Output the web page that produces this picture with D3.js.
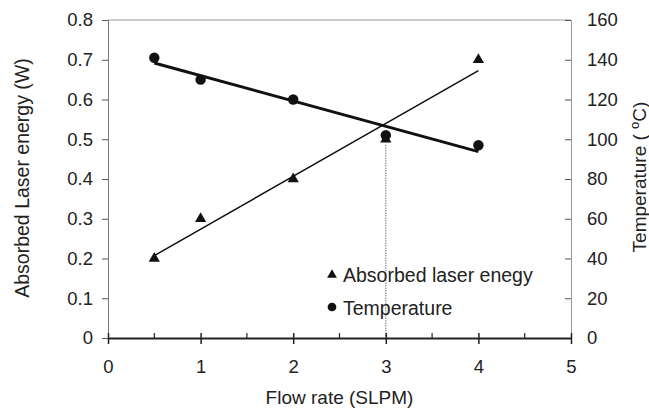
<!DOCTYPE html>
<html>
<head>
<meta charset="utf-8">
<script src="https://cdn.jsdelivr.net/npm/d3@7"></script>
<style>
  body { margin: 0; background: #fff; }
  svg { display: block; font-family: "Liberation Sans", Arial, sans-serif; }
</style>
</head>
<body>
<svg width="649" height="409"></svg>
<script>
// data
const flowRate = [0.5, 1, 2, 3, 4];
const absorbedEnergy = [0.2, 0.3, 0.4, 0.5, 0.7];
const temperature = [141, 130, 120, 102, 97];
const xTicks = [0, 1, 2, 3, 4, 5];
const xMinorTicks = [0.5, 1.5, 2.5, 3.5, 4.5];
const leftTicks = [0, 0.1, 0.2, 0.3, 0.4, 0.5, 0.6, 0.7, 0.8];
const rightTicks = [0, 20, 40, 60, 80, 100, 120, 140, 160];
const markerLine = 3;

const margin = { top: 20, right: 78, bottom: 71, left: 108 },
  width = 649 - margin.left - margin.right,
  height = 409 - margin.top - margin.bottom;

const svg = d3.select('svg');
const g = svg.append('g')
  .attr('transform', `translate(${margin.left},${margin.top})`);

const x = d3.scaleLinear().domain([0, 5]).range([0, width]);
const yL = d3.scaleLinear().domain([0, 0.8]).range([height, 0]);
const yR = d3.scaleLinear().domain([0, 160]).range([height, 0]);

// least squares trend line
function fit(xs, ys) {
  const mx = d3.mean(xs), my = d3.mean(ys);
  let sxy = 0, sxx = 0;
  xs.forEach((v, i) => { sxy += (v - mx) * (ys[i] - my); sxx += (v - mx) * (v - mx); });
  const b = sxy / sxx, a = my - b * mx;
  return v => a + b * v;
}

// top border in gray
g.append('line').attr('x1', 0).attr('x2', width).attr('y1', 0).attr('y2', 0)
  .attr('stroke', '#999').attr('stroke-width', 1);

const leftAxis = g.append('g')
  .call(d3.axisLeft(yL).tickValues(leftTicks).tickSize(6).tickPadding(9)
    .tickFormat(d => d === 0 ? '0' : d3.format('.1f')(d)));
leftAxis.select('.domain').attr('stroke', '#777');
leftAxis.selectAll('.tick line').attr('stroke', '#555');
leftAxis.selectAll('text').attr('font-size', 18.5).attr('fill', '#222');

const rightAxis = g.append('g')
  .attr('transform', `translate(${width},0)`)
  .call(d3.axisRight(yR).tickValues(rightTicks).tickSize(0).tickPadding(16));
rightAxis.select('.domain').attr('stroke', '#999');
rightAxis.selectAll('.tick').append('line')
  .attr('x1', -6).attr('x2', 0).attr('stroke', '#555');
rightAxis.selectAll('text').attr('font-size', 18.5).attr('fill', '#222');

const xAxis = g.append('g')
  .attr('transform', `translate(0,${height})`)
  .call(d3.axisBottom(x).tickValues(xTicks).tickSize(0).tickPadding(22)
    .tickFormat(d3.format('d')));
xAxis.select('.domain').attr('stroke', '#222').attr('stroke-width', 2);
xAxis.selectAll('.tick').append('line')
  .attr('y1', -5).attr('y2', 6).attr('stroke', '#222').attr('stroke-width', 1.5);
xAxis.selectAll('text').attr('font-size', 18.5).attr('fill', '#222');
xAxis.selectAll('.minor')
  .data(xMinorTicks).enter().append('line')
  .attr('x1', d => x(d)).attr('x2', d => x(d))
  .attr('y1', -5).attr('y2', 0)
  .attr('stroke', '#222').attr('stroke-width', 1.2);

// dotted drop line
g.append('line')
  .attr('x1', x(markerLine)).attr('x2', x(markerLine))
  .attr('y1', yL(absorbedEnergy[3]) + 6).attr('y2', height)
  .attr('stroke', '#333').attr('stroke-width', 1)
  .attr('stroke-dasharray', '1,1.5');

// trend lines
const fE = fit(flowRate, absorbedEnergy);
const fT = fit(flowRate, temperature);
const x0 = d3.min(flowRate), x1 = d3.max(flowRate);

g.append('line')
  .attr('x1', x(x0)).attr('y1', yL(fE(x0)))
  .attr('x2', x(x1)).attr('y2', yL(fE(x1)))
  .attr('stroke', '#111').attr('stroke-width', 1.5);

g.append('line')
  .attr('x1', x(x0)).attr('y1', yR(fT(x0)))
  .attr('x2', x(x1)).attr('y2', yR(fT(x1)))
  .attr('stroke', '#111').attr('stroke-width', 3);

const tri = d3.symbol().type(d3.symbolTriangle).size(55);
const dot = d3.symbol().type(d3.symbolCircle).size(85);

g.selectAll('.tri')
  .data(flowRate).enter().append('path')
  .attr('d', tri)
  .attr('transform', (d, i) => `translate(${x(d)},${yL(absorbedEnergy[i])})`)
  .attr('fill', '#111');

g.selectAll('.dot')
  .data(flowRate).enter().append('path')
  .attr('d', dot)
  .attr('transform', (d, i) => `translate(${x(d)},${yR(temperature[i])})`)
  .attr('fill', '#111');

// legend
const legend = g.append('g').attr('transform', 'translate(224,255)');
legend.append('path').attr('d', d3.symbol().type(d3.symbolTriangle).size(42))
  .attr('fill', '#111');
legend.append('text').attr('x', 11).attr('y', 7)
  .attr('font-size', 19.5).attr('fill', '#222').text('Absorbed laser enegy');
legend.append('path').attr('d', d3.symbol().type(d3.symbolCircle).size(60))
  .attr('transform', 'translate(0,32)').attr('fill', '#111');
legend.append('text').attr('x', 11).attr('y', 40)
  .attr('font-size', 19.5).attr('fill', '#222').text('Temperature');

// axis titles
svg.append('text')
  .attr('x', margin.left + width / 2).attr('y', 404)
  .attr('text-anchor', 'middle').attr('font-size', 19).attr('fill', '#222')
  .text('Flow rate (SLPM)');

svg.append('text')
  .attr('transform', 'translate(29,178) rotate(-90)')
  .attr('text-anchor', 'middle').attr('font-size', 19.5).attr('fill', '#222')
  .text('Absorbed Laser energy (W)');

const tTitle = svg.append('text')
  .attr('transform', 'translate(646,177) rotate(-90)')
  .attr('text-anchor', 'middle').attr('font-size', 19).attr('fill', '#222');
tTitle.append('tspan').text('Temperature ( ');
tTitle.append('tspan').attr('dy', -7).attr('font-size', 13).text('o');
tTitle.append('tspan').attr('dy', 7).text('C)');
</script>
</body>
</html>
